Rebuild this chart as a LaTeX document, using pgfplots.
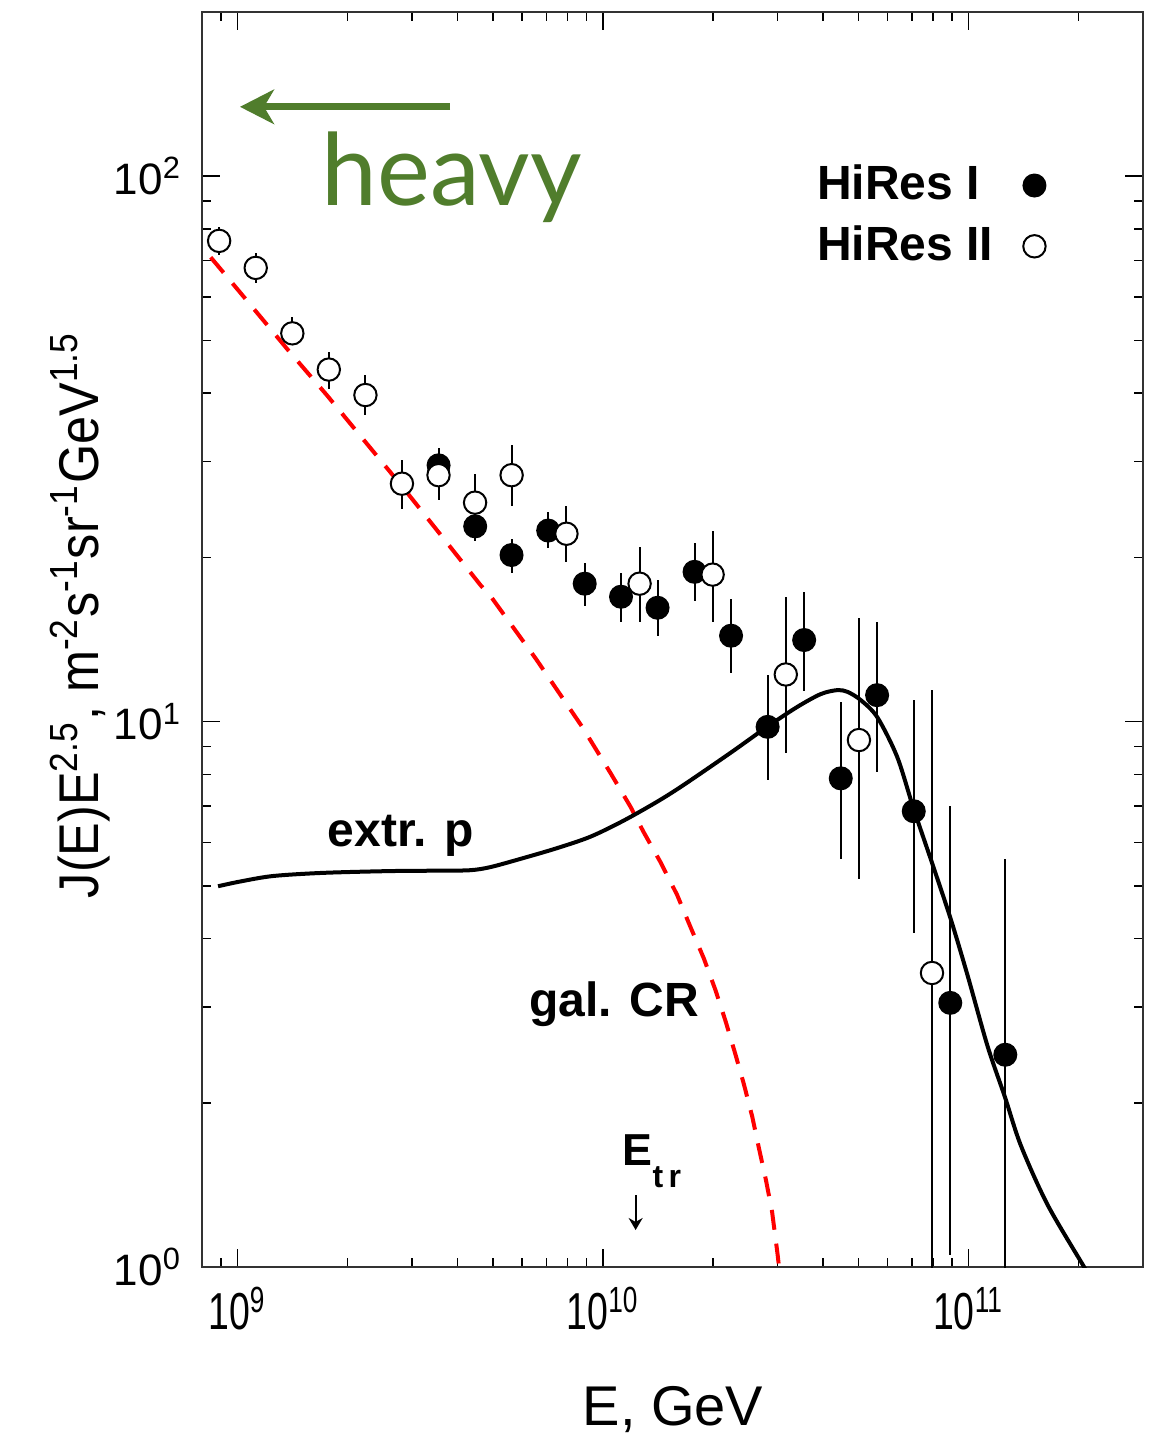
\documentclass[border=0pt]{standalone}
\usepackage{fontspec}
\setmainfont{Liberation Sans}
\newfontfamily\heavyfont{Lato}
\newfontfamily\condfont[FakeStretch=0.9]{Liberation Sans}
\newfontfamily\tickfont[FakeStretch=0.72]{Liberation Sans}
\usepackage{pgfplots}
\pgfplotsset{compat=1.18}
\usetikzlibrary{arrows.meta}
\definecolor{heavygreen}{RGB}{80,125,44}

\begin{document}
\begin{tikzpicture}
\path[use as bounding box] (-50.5pt,-42.5pt) rectangle (236.75pt,316.75pt);
\begin{axis}[
  at={(0,0)}, anchor=south west,
  scale only axis, width=235.25pt, height=313.75pt,
  xmode=log, ymode=log,
  xmin=8e8, xmax=3e11, ymin=1, ymax=200,
  xtick={1e9,1e10,1e11},
  xticklabels={10\textsuperscript{9},10\textsuperscript{10},10\textsuperscript{11}},
  minor xtick={9e8,2e9,3e9,4e9,5e9,6e9,7e9,8e9,9e9,2e10,3e10,4e10,5e10,6e10,7e10,8e10,9e10,2e11},
  ytick={1,10,100},
  yticklabels={10\textsuperscript{0},10\textsuperscript{1},10\textsuperscript{2}},
  minor ytick={2,3,4,5,6,7,8,9,20,30,40,50,60,70,80,90},
  xticklabel style={font=\tickfont\fontsize{13}{15}\selectfont, yshift=-1.5pt},
  yticklabel style={font=\fontsize{11}{13}\selectfont, xshift=-1.5pt},
  major tick length=4.5pt, minor tick length=2.25pt,
  tick style={black, line width=0.4pt},
  axis line style={black!80, line width=0.5pt},
  xlabel={E, GeV},
  xlabel style={at={(axis description cs:0.5005,-0.1259)}, anchor=base, font=\fontsize{14}{16}\selectfont},
  ylabel={J(E)E\textsuperscript{2.5}, m\textsuperscript{-2}s\textsuperscript{-1}sr\textsuperscript{-1}GeV\textsuperscript{1.5}},
  ylabel style={at={(axis description cs:-0.1105,0.5196)}, anchor=base, font=\condfont\fontsize{14}{16}\selectfont},
  legend plot pos=right,
  legend cell align=left,
  legend style={draw=none, fill=none, at={(axis description cs:0.6444,0.885)}, anchor=north west,
    font=\bfseries\fontsize{12}{14}\selectfont, row sep=1pt, column sep=5.5pt, inner sep=0pt},
]
% galactic CR (red dashed)
\addplot[forget plot, red, line width=1pt, dash pattern=on 5pt off 3.5pt] coordinates {
(8.45e8,71.0) (1.076e9,58.5) (1.368e9,48.2) (1.755e9,39.7) (2.244e9,32.5)
(2.858e9,26.7) (3.60e9,21.98) (4.62e9,17.8) (4.97e9,16.84) (6.56e9,13.02)
(8.77e9,9.78) (1.048e10,8.05) (1.189e10,6.98) (1.29e10,6.28) (1.435e10,5.53)
(1.595e10,4.81) (1.735e10,4.20) (1.887e10,3.68) (2.03e10,3.22) (2.165e10,2.82)
(2.30e10,2.46) (2.43e10,2.16) (2.56e10,1.886) (2.67e10,1.651) (2.79e10,1.444)
(2.90e10,1.263) (3.0e10,1.06) (3.03e10,1.0)
};
% extragalactic protons (black solid)
\addplot[forget plot, black, line width=1pt, smooth, tension=0.5] coordinates {
(8.85e8,4.99) (1.016e9,5.09) (1.25e9,5.21) (1.714e9,5.28) (2.616e9,5.32)
(3.66e9,5.33) (4.34e9,5.34) (4.92e9,5.41) (6.05e9,5.62) (7.48e9,5.86)
(9.23e9,6.15) (1.137e10,6.58) (1.406e10,7.13) (1.66e10,7.65) (2.23e10,8.76)
(2.81e10,9.78) (3.40e10,10.64) (3.94e10,11.23) (4.37e10,11.42) (4.66e10,11.34)
(5.07e10,10.95) (5.63e10,10.18) (6.38e10,8.61) (7.07e10,6.93) (8.03e10,5.39)
(8.94e10,4.34) (9.93e10,3.43) (1.127e11,2.54) (1.257e11,2.05) (1.39e11,1.67)
(1.645e11,1.30) (2.07e11,1.0) (2.2e11,0.93)
};
% HiRes I
\addplot[only marks, mark=*, mark size=2.8pt, mark options={draw=black, fill=black}, black,
  error bars/.cd, y dir=both, y explicit, error mark=none, error bar style={line width=0.5pt, black}]
  table[x=E, y=J, y error plus=ep, y error minus=em] {
E J ep em
3.55e9 29.5 2.2 2.0
4.47e9 22.8 1.6 1.4
5.62e9 20.2 1.4 1.45
7.08e9 22.4 1.8 1.55
8.91e9 17.9 1.66 1.6
1.12e10 16.94 1.8 1.74
1.41e10 16.17 2.0 1.82
1.78e10 18.82 2.4 2.17
2.24e10 14.37 2.4 2.08
2.82e10 9.78 2.39 1.97
3.55e10 14.11 3.15 2.72
4.47e10 7.87 2.99 2.26
5.62e10 11.18 4.06 3.11
7.08e10 6.85 4.1 2.75
8.91e10 3.05 3.96 2.0
1.26e11 2.45 3.16 2.0
};
\addlegendentry{HiRes I}
% HiRes II
\addplot[only marks, mark=*, mark size=2.8pt, mark options={draw=black, fill=white, line width=0.5pt}, black,
  error bars/.cd, y dir=both, y explicit, error mark=none, error bar style={line width=0.5pt, black}]
  table[x=E, y=J, y error plus=ep, y error minus=em] {
E J ep em
8.91e8 76.1 4.6 4.4
1.122e9 67.9 4.3 4.3
1.413e9 51.5 3.7 2.3
1.778e9 44.2 3.4 3.4
2.239e9 39.7 3.5 3.2
2.818e9 27.3 2.9 2.8
3.548e9 28.3 3.4 2.8
4.467e9 25.2 3.3 2.8
5.623e9 28.3 3.8 3.5
7.943e9 22.1 2.7 2.5
1.259e10 17.9 3.0 2.7
1.995e10 18.6 3.8 3.4
3.162e10 12.2 4.7 3.45
5.012e10 9.25 6.25 4.11
7.943e10 3.46 7.98 3.0
};
\addlegendentry{HiRes II}
% annotations
\draw[heavygreen, line width=1.75pt, -{Stealth[length=8.5pt,width=8.6pt,inset=2.5pt]}]
  (axis cs:3.82e9,134) -- (axis cs:1.016e9,134);
\node[font=\heavyfont\fontsize{25}{25}\selectfont, text=heavygreen, anchor=base, inner sep=0pt]
  at (axis cs:3.86e9,88.5) {heavy};
\node[font=\bfseries\fontsize{12}{14}\selectfont, anchor=base west, inner sep=0pt]
  at (axis cs:1.758e9,5.89) {extr. p};
\node[font=\bfseries\fontsize{12}{14}\selectfont, anchor=base west, inner sep=0pt]
  at (axis cs:6.25e9,2.877) {gal. CR};
\node[font=\bfseries\fontsize{11.2}{12}\selectfont, anchor=base west, inner sep=0pt]
  at (axis cs:1.127e10,1.538) {E\raisebox{-5.5pt}{\fontsize{8}{9}\selectfont t\,r}};
\draw[black, line width=0.5pt, -{Stealth[length=3pt,width=3.5pt]}]
  (axis cs:1.228e10,1.355) -- (axis cs:1.228e10,1.169);
\end{axis}
\end{tikzpicture}
\end{document}
